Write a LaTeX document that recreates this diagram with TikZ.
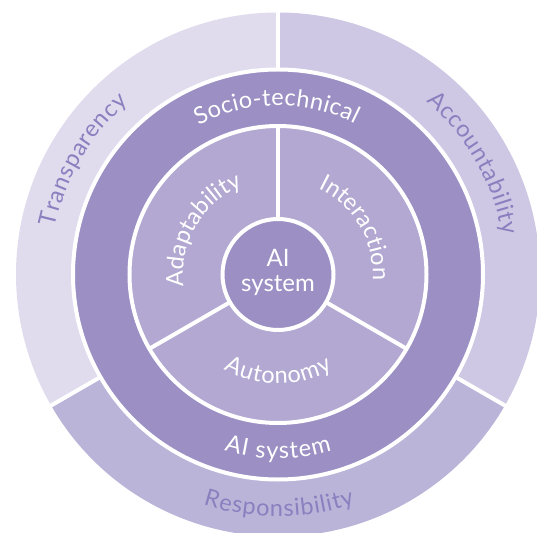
\documentclass[tikz,border=0pt]{standalone}
\usepackage{fontspec}
\setmainfont{Lato}
\usetikzlibrary{decorations.text}

\definecolor{segTrans}{HTML}{E0DCEE}
\definecolor{segAcc}{HTML}{CEC8E4}
\definecolor{segResp}{HTML}{BBB4D9}
\definecolor{ringDark}{HTML}{9C8FC4}
\definecolor{ringMid}{HTML}{B3A8D2}
\definecolor{labelPurple}{HTML}{8A80BF}

\newcommand\ringfont{\fontsize{23.5}{27}\selectfont}
\newcommand\corefont{\fontsize{24}{28}\selectfont}

\begin{document}
\begin{tikzpicture}[x=1pt,y=1pt,
  gap/.style={draw=white,line width=4pt},
  % text set along an arc, stretched to fill it
  arclabel/.style 2 args={decorate,decoration={text along path,
      text={|\ringfont\color{#1}|#2},text align={fit to path}}}]
\useasboundingbox (-278,-257.5) rectangle (259,274.5);
\clip (-278,-257.5) rectangle (259,274.5);

% outer ring: three principle sectors
\fill[segTrans] (0,0) -- (90:262) arc[start angle=90,end angle=210,radius=262] -- cycle;
\fill[segResp] (0,0) -- (210:262) arc[start angle=210,end angle=330,radius=262] -- cycle;
\fill[segAcc] (0,0) -- (330:262) arc[start angle=330,end angle=450,radius=262] -- cycle;
\foreach \a in {90,210,330} \draw[gap] (0,0) -- (\a:264);

% socio-technical ring
\path[gap,fill=ringDark] (0,0) circle[radius=205];

% property ring with its three sectors
\path[gap,fill=ringMid] (0,0) circle[radius=148.5];
\foreach \a in {90,210,330} \draw[gap] (0,0) -- (\a:148.5);

% core
\path[gap,fill=ringDark] (0,0) circle[radius=55.5];
\node[anchor=base,white,font=\corefont,inner sep=0pt] (coreA) at (0,7.8) {AI};
\node[anchor=base,white,font=\corefont,inner sep=0pt] (coreB) at (0,-17.2) {system};

% labels of the outer ring
\path[arclabel={labelPurple}{Transparency}] (168:228) arc[start angle=168,end angle=131,radius=228];
\path[arclabel={labelPurple}{Accountability}] (49.5:228) arc[start angle=49.5,end angle=10,radius=228];
\path[arclabel={labelPurple}{Responsibility}] (252:242) arc[start angle=252,end angle=288.5,radius=242];

% labels of the socio-technical ring
\path[arclabel={white}{Socio-technical}] (118:169) arc[start angle=118,end angle=63,radius=169];
\path[arclabel={white}{AI system}] (253:184) arc[start angle=253,end angle=287,radius=184];

% labels of the property ring
\path[arclabel={white}{Adaptability}] (187:95) arc[start angle=187,end angle=114,radius=95];
\path[arclabel={white}{Interaction}] (65:95) arc[start angle=65,end angle=-3.5,radius=95];
\path[arclabel={white}{Autonomy}] (240:109) arc[start angle=240,end angle=300,radius=109];
\end{tikzpicture}
\end{document}
